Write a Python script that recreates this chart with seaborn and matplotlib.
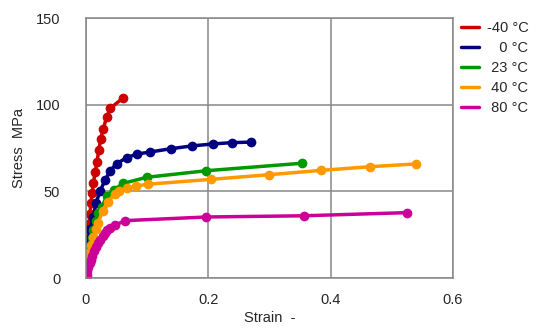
import matplotlib
matplotlib.use("Agg")
import matplotlib.pyplot as plt
import numpy as np
import pandas as pd
import seaborn as sns
from matplotlib.lines import Line2D

# strain / stress readings for each test temperature
temps = ["-40 °C", "0 °C", "23 °C", "40 °C", "80 °C"]

strain_m40 = [0, 0.0005, 0.0011, 0.0028, 0.0049, 0.0065, 0.008, 0.010, 0.012, 0.015,
              0.018, 0.021, 0.024, 0.028, 0.034, 0.040, 0.061]
stress_m40 = [0, 9, 18, 26, 31, 37, 43, 49, 55, 61, 67, 74, 80, 86, 93, 98, 104]

strain_0 = [0, 0.001, 0.002, 0.0038, 0.0065, 0.012, 0.016, 0.023, 0.031, 0.040,
            0.050, 0.067, 0.083, 0.105, 0.139, 0.173, 0.207, 0.238, 0.270]
stress_0 = [0, 6, 12, 22, 28, 35, 43, 50, 56.5, 62, 66, 69.5, 71.5, 72.7, 74.6,
            76.2, 77.3, 78.1, 78.4]

strain_23 = [0, 0.001, 0.004, 0.0065, 0.009, 0.012, 0.016, 0.020, 0.026, 0.034,
             0.045, 0.061, 0.099, 0.197, 0.353]
stress_23 = [0, 8.6, 13, 18, 23, 27.7, 33, 37.3, 41.1, 47.3, 50.8, 54.6, 58.1, 61.9, 66.2]

strain_40 = [0, 0.0005, 0.004, 0.008, 0.012, 0.016, 0.020, 0.027, 0.036, 0.047,
             0.054, 0.067, 0.082, 0.101, 0.204, 0.299, 0.385, 0.464, 0.539]
stress_40 = [0, 4.6, 14.3, 19, 23.8, 28, 31.9, 38.8, 44, 48.5, 50.2, 51.8, 53.1,
             54.1, 56.9, 59.6, 62.1, 64.2, 65.8]

strain_80 = [0, 0.001, 0.002, 0.004, 0.006, 0.008, 0.010, 0.013, 0.016, 0.019,
             0.023, 0.027, 0.031, 0.035, 0.039, 0.047, 0.064, 0.197, 0.356, 0.524]
stress_80 = [0, 2, 4, 6.5, 8.5, 10.5, 12.5, 15.5, 18, 20, 22, 24, 26, 27.5, 28.7,
             30.4, 33.1, 35.2, 35.9, 37.7]

colors = ["#cc0000", "#000080", "#009900", "#ff9900", "#cc0099"]

frames = []
for t, xs, ys in zip(temps, [strain_m40, strain_0, strain_23, strain_40, strain_80],
                     [stress_m40, stress_0, stress_23, stress_40, stress_80]):
    frames.append(pd.DataFrame({"strain": xs, "stress": ys, "temp": t}))
df = pd.concat(frames, ignore_index=True)

sns.set_style("white")
plt.rcParams["font.family"] = ["Liberation Sans", "DejaVu Sans"]
plt.rcParams["font.size"] = 10.5

fig = plt.figure(figsize=(5.39, 3.29), dpi=100)
ax = fig.add_axes([86 / 539, 51 / 329, 367 / 539, 260 / 329])

sns.lineplot(data=df, x="strain", y="stress", hue="temp", hue_order=temps,
             palette=colors, marker="o", markersize=7, markeredgewidth=0,
             linewidth=2.5, sort=False, estimator=None, legend=False, ax=ax)

grid_col = "#888888"
ax.set_xlim(0, 0.6)
ax.set_ylim(0, 150)
ax.set_xticks([0, 0.2, 0.4, 0.6])
ax.set_xticklabels(["0", "0.2", "0.4", "0.6"])
ax.set_yticks([0, 50, 100, 150])
ax.grid(True, color=grid_col, linewidth=1.1)
ax.set_axisbelow(True)
for s in ax.spines.values():
    s.set_color(grid_col)
    s.set_linewidth(1.1)
ax.tick_params(axis="both", direction="out", length=7.5, width=1.1, color=grid_col,
               labelsize=10.5)
ax.tick_params(axis="x", pad=3)
ax.tick_params(axis="y", pad=11)
ax.set_xlabel("Strain  -", fontsize=10.5, labelpad=3)
ax.set_ylabel("Stress  MPa", fontsize=10.5, labelpad=7)

labels = ["-40 °C", "\u2007 0 °C", " 23 °C", " 40 °C", " 80 °C"]
handles = [Line2D([], [], color=c, linewidth=2.5) for c in colors]
fig.legend(handles, labels, loc="upper left", bbox_to_anchor=(461 / 539, 1 - 21 / 329),
           bbox_transform=fig.transFigure, frameon=False, borderpad=0, borderaxespad=0,
           handlelength=1.25, handletextpad=0.5, labelspacing=0.42, fontsize=10.5)

fig.savefig("out.png", dpi=100)
